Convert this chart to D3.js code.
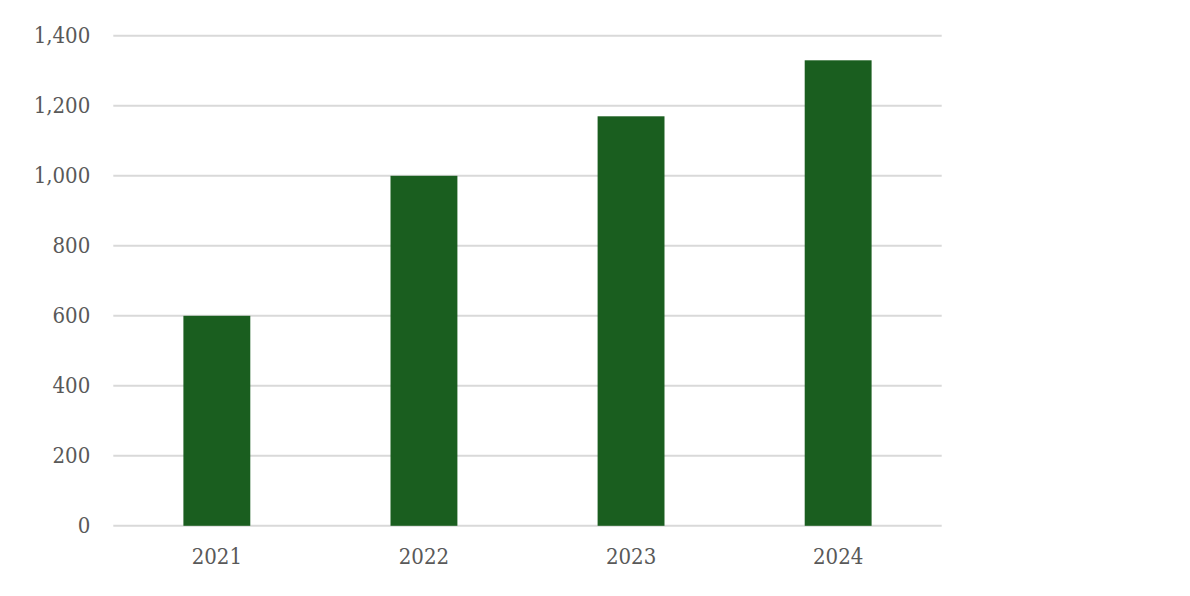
<!DOCTYPE html>
<html>
<head>
<meta charset="utf-8">
<script src="https://cdn.jsdelivr.net/npm/d3@7"></script>
<style>
  html, body { margin: 0; padding: 0; background: #ffffff; }
  svg text { font-family: "DejaVu Serif Condensed", "DejaVu Serif", serif; fill: #595959; font-size: 22px; }
</style>
</head>
<body>
<svg id="chart" width="1190" height="596"></svg>
<script>
const categories = ["2021", "2022", "2023", "2024"];
const values = [600, 1000, 1170, 1330];
const yTicks = [0, 200, 400, 600, 800, 1000, 1200, 1400];

const svg = d3.select("#chart");
const margin = { left: 113.3, right: 1190 - 941.7, top: 35.8, bottom: 596 - 525.8 };
const width = 1190, height = 596;

const x = d3.scaleBand()
  .domain(categories)
  .range([margin.left, width - margin.right])
  .paddingInner(0.677)
  .paddingOuter(0.3385);

const y = d3.scaleLinear()
  .domain([0, 1400])
  .range([height - margin.bottom, margin.top]);

// gridlines
svg.append("g")
  .selectAll("line")
  .data(yTicks)
  .join("line")
  .attr("x1", margin.left)
  .attr("x2", width - margin.right)
  .attr("y1", d => y(d))
  .attr("y2", d => y(d))
  .attr("stroke", "#d9d9d9")
  .attr("stroke-width", 2);

// bars
svg.append("g")
  .selectAll("rect")
  .data(categories.map((c, i) => ({ c, v: values[i] })))
  .join("rect")
  .attr("x", d => x(d.c))
  .attr("width", x.bandwidth())
  .attr("y", d => y(d.v))
  .attr("height", d => y(0) - y(d.v))
  .attr("fill", "#1a5e1f");

// y axis labels
const yAxis = d3.axisLeft(y)
  .tickValues(yTicks)
  .tickSize(0)
  .tickPadding(23)
  .tickFormat(d3.format(","));
const gy = svg.append("g")
  .attr("transform", `translate(${margin.left},0)`)
  .call(yAxis);
gy.select(".domain").remove();
gy.selectAll("text").attr("font-family", null).attr("font-size", null);

// x axis labels
const xAxis = d3.axisBottom(x).tickSize(0).tickPadding(23);
const gx = svg.append("g")
  .attr("transform", `translate(0,${y(0)})`)
  .call(xAxis);
gx.select(".domain").remove();
gx.selectAll("text").attr("font-family", null).attr("font-size", null);
</script>
</body>
</html>
